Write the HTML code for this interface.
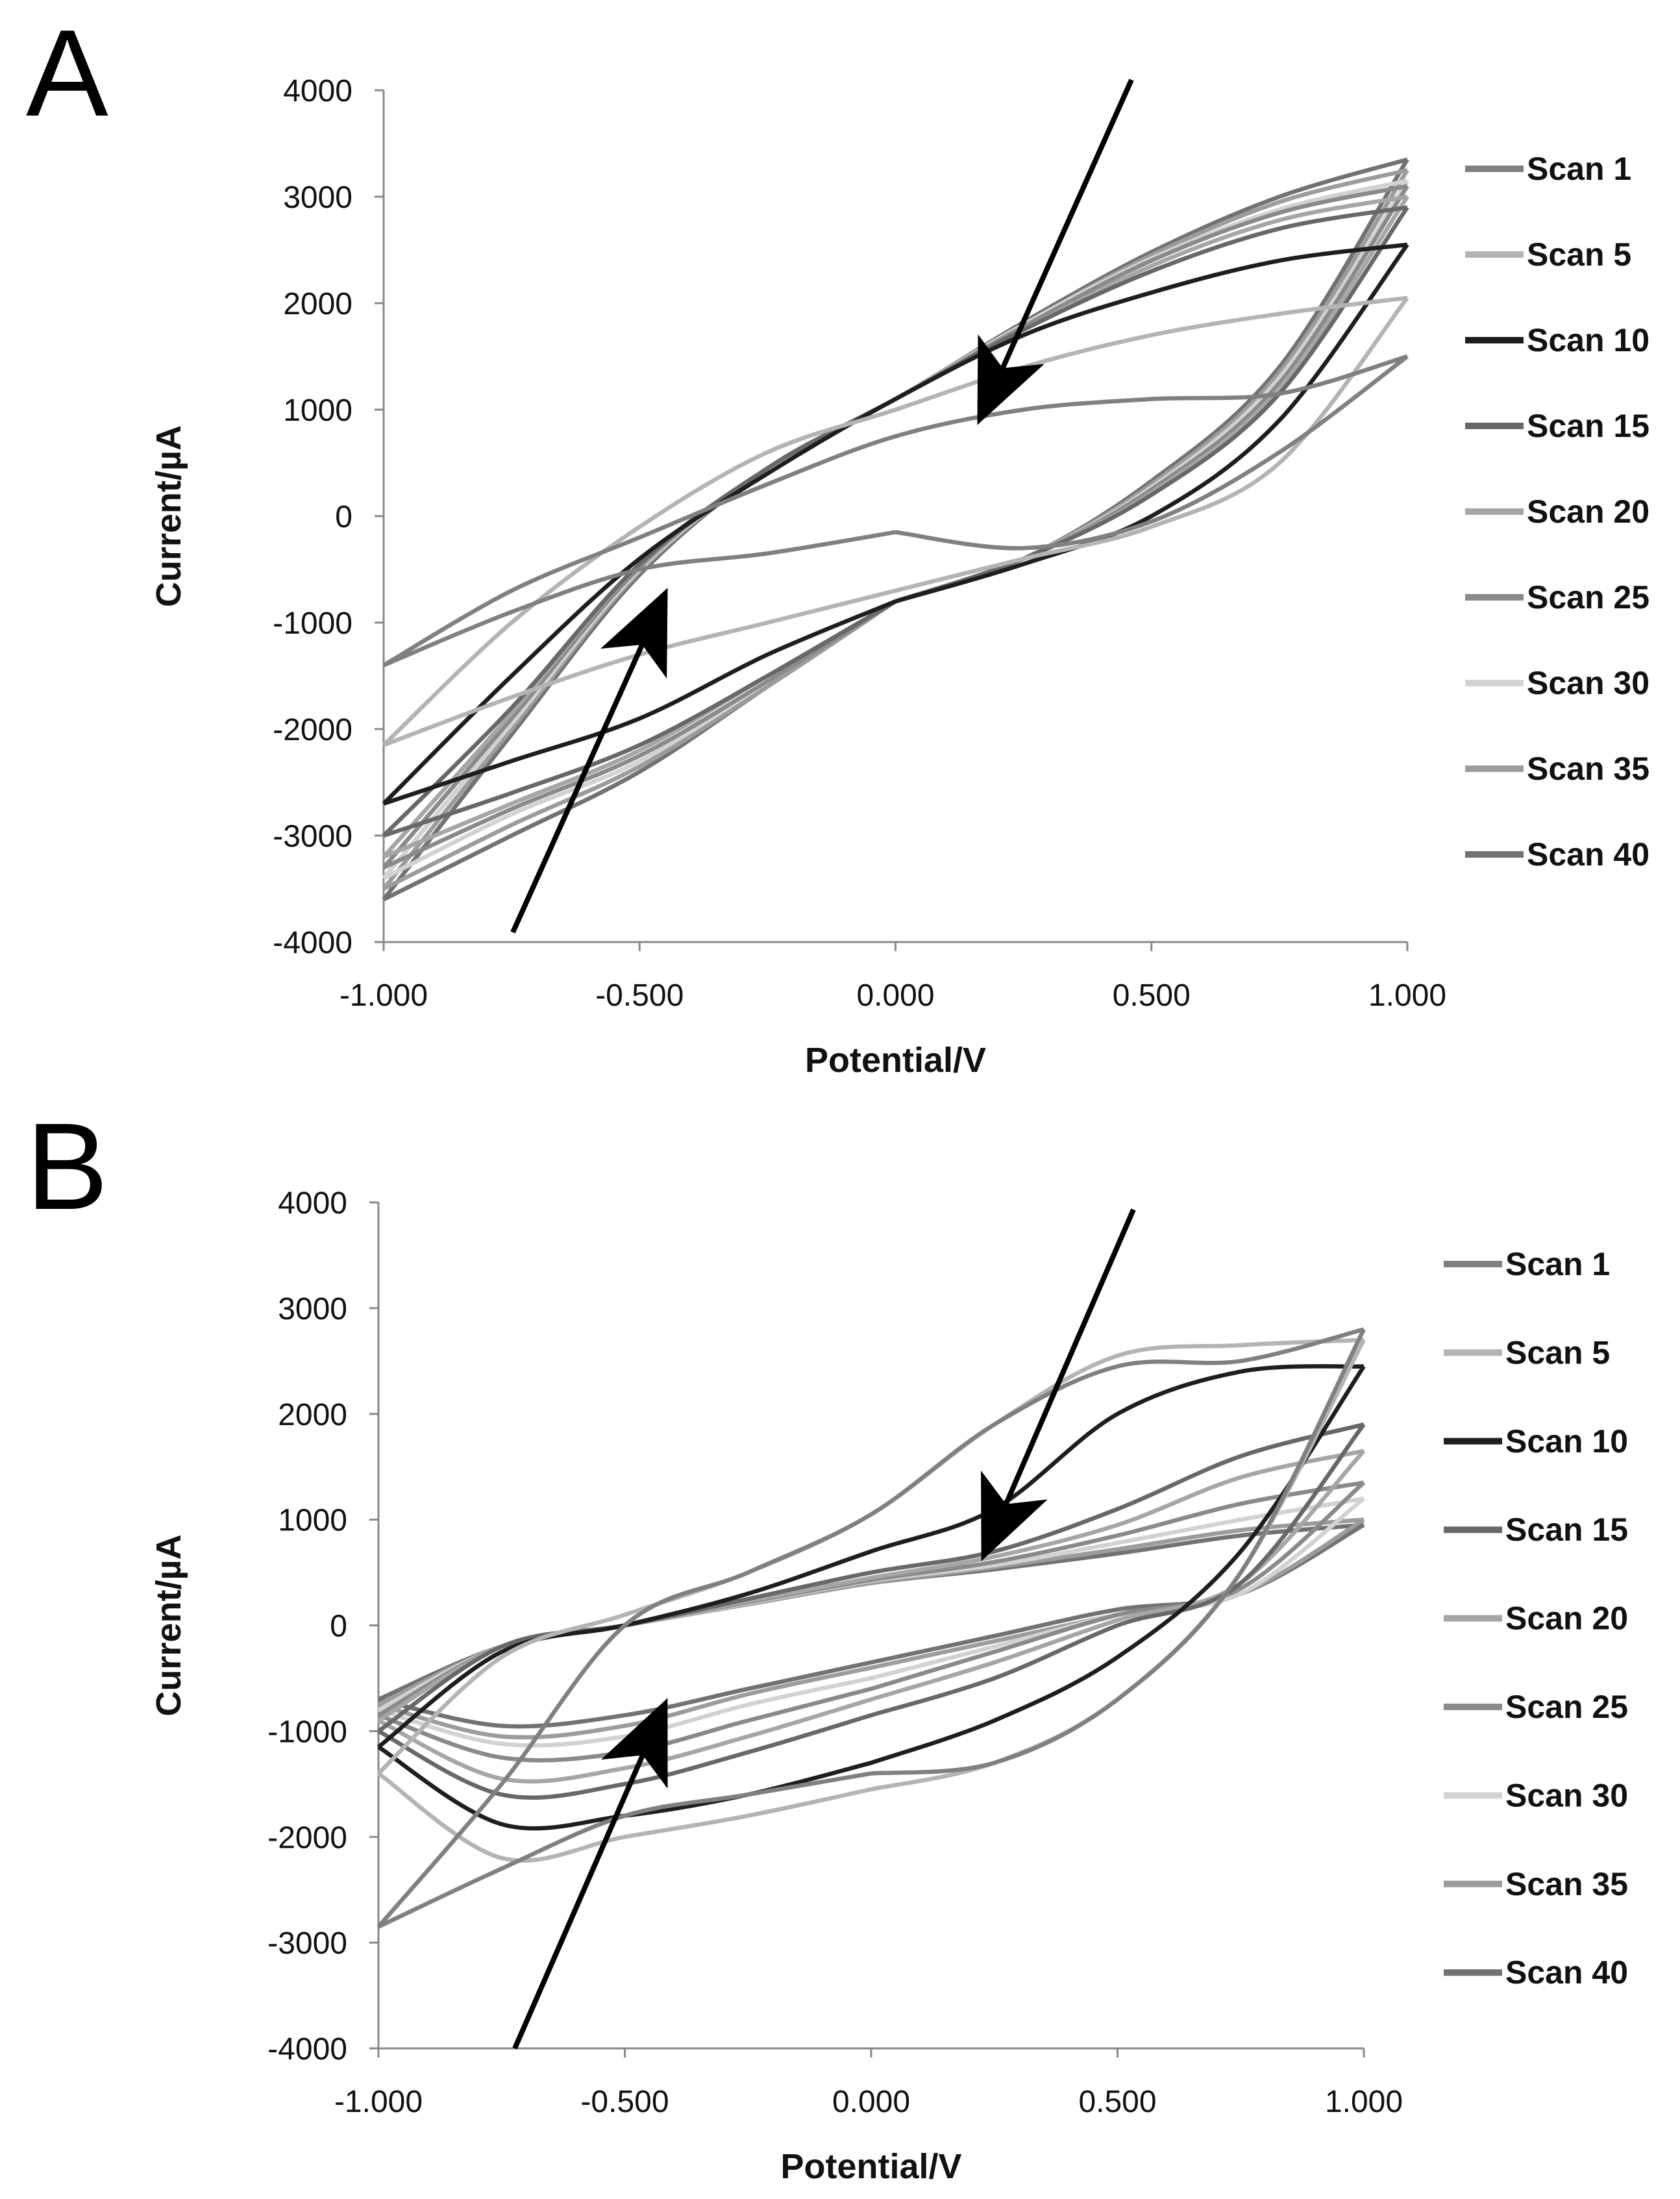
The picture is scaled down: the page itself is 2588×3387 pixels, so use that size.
<!DOCTYPE html>
<html><head><meta charset="utf-8"><style>
html,body{margin:0;padding:0;background:#fff;}
svg{display:block;}
text{font-family:"Liberation Sans","DejaVu Sans",sans-serif;}
</style></head><body>
<svg id="fig" width="2588" height="3387" viewBox="0 0 2588 3387" xmlns="http://www.w3.org/2000/svg">
<rect width="2588" height="3387" fill="#fff"/>
<text x="40" y="178" font-size="190">A</text>
<text x="40" y="1862" font-size="190">B</text>
<defs><marker id="ah" markerWidth="16" markerHeight="14" refX="14" refY="7" orient="auto" markerUnits="strokeWidth"><path d="M0,0 L16,7 L0,14 L4,7 Z" fill="#000"/></marker></defs>
</svg>
<script>
const potentials = [-1, -0.75, -0.5, -0.25, 0, 0.25, 0.5, 0.75, 1];
const scanNames = ["Scan 1","Scan 5","Scan 10","Scan 15","Scan 20","Scan 25","Scan 30","Scan 35","Scan 40"];
const scanColors = ["#808080","#b4b4b4","#1e1e1e","#686868","#a6a6a6","#8a8a8a","#d2d2d2","#9c9c9c","#727272"];
const yTicks = [4000,3000,2000,1000,0,-1000,-2000,-3000,-4000];
const xTicks = [-1,-0.5,0,0.5,1];
const xTickLabels = ["-1.000","-0.500","0.000","0.500","1.000"];

// Panel A: upper (anodic) and lower (cathodic) branches
const aUpper = [
 [-1400,-700,-200,300,750,1000,1100,1150,1500],
 [-2150,-1000,-100,600,1000,1400,1700,1900,2050],
 [-2700,-1500,-400,400,1100,1700,2100,2400,2550],
 [-3000,-1800,-450,450,1100,1750,2300,2700,2900],
 [-3200,-1850,-450,450,1100,1750,2350,2780,3000],
 [-3300,-1900,-480,450,1100,1780,2400,2850,3100],
 [-3400,-1950,-500,450,1100,1800,2420,2880,3150],
 [-3500,-2000,-520,450,1100,1800,2450,2950,3250],
 [-3600,-2050,-550,450,1100,1820,2480,3000,3350]];
const aLower = [
 [-1400,-900,-500,-350,-150,-300,-50,600,1500],
 [-2150,-1700,-1300,-1000,-700,-400,-100,500,2050],
 [-2700,-2300,-1900,-1300,-800,-450,0,900,2550],
 [-3000,-2600,-2150,-1500,-800,-400,200,1150,2900],
 [-3200,-2700,-2200,-1500,-800,-400,220,1200,3000],
 [-3300,-2750,-2250,-1550,-800,-400,250,1250,3100],
 [-3400,-2800,-2300,-1550,-800,-400,270,1300,3150],
 [-3500,-2900,-2350,-1600,-800,-400,300,1350,3250],
 [-3600,-3000,-2400,-1600,-800,-400,330,1400,3350]];

// Panel B
const bUpper = [
 [-2850,-1500,0,500,1050,1900,2450,2500,2800],
 [-1400,-300,100,500,1050,1900,2550,2650,2700],
 [-1150,-250,0,300,700,1100,2000,2400,2450],
 [-1000,-200,0,250,500,700,1100,1600,1900],
 [-900,-200,0,230,450,650,950,1400,1650],
 [-850,-200,0,220,430,600,850,1150,1350],
 [-800,-200,0,210,420,570,780,1000,1200],
 [-750,-200,0,200,400,550,720,900,1000],
 [-700,-200,0,200,400,530,680,850,950]];
const bLower = [
 [-2850,-2300,-1800,-1600,-1400,-1300,-700,500,2800],
 [-1400,-2200,-2000,-1800,-1550,-1300,-700,500,2700],
 [-1150,-1880,-1800,-1600,-1300,-900,-300,700,2450],
 [-1000,-1600,-1500,-1200,-850,-500,0,400,1900],
 [-900,-1450,-1350,-1050,-700,-350,50,400,1650],
 [-850,-1250,-1200,-900,-600,-250,100,350,1350],
 [-800,-1120,-1050,-750,-500,-200,100,300,1200],
 [-750,-1050,-950,-650,-400,-150,100,300,1000],
 [-700,-950,-850,-600,-350,-100,150,300,950]];

const NS = "http://www.w3.org/2000/svg";
const svg = document.getElementById("fig");
function mk(tag, attrs, parent){const e=document.createElementNS(NS,tag);for(const k in attrs)e.setAttribute(k,attrs[k]);(parent||svg).appendChild(e);return e;}
function smooth(pts){
  let d="M"+pts[0][0].toFixed(1)+","+pts[0][1].toFixed(1);
  for(let i=0;i<pts.length-1;i++){
    const p0=pts[Math.max(0,i-1)],p1=pts[i],p2=pts[i+1],p3=pts[Math.min(pts.length-1,i+2)];
    const c1=[p1[0]+(p2[0]-p0[0])/6,p1[1]+(p2[1]-p0[1])/6];
    const c2=[p2[0]-(p3[0]-p1[0])/6,p2[1]-(p3[1]-p1[1])/6];
    d+=" C"+c1[0].toFixed(1)+","+c1[1].toFixed(1)+" "+c2[0].toFixed(1)+","+c2[1].toFixed(1)+" "+p2[0].toFixed(1)+","+p2[1].toFixed(1);
  }
  return d;
}
function chart(id, cfg, upper, lower){
  const g=mk("g",{});
  
  
  const X=v=>cfg.x0+(v+1)/2*(cfg.x1-cfg.x0);
  const Y=v=>cfg.yb+(v+4000)/8000*(cfg.yt-cfg.yb);
  const ya=mk("line",{x1:X(-1),y1:Y(4000),x2:X(-1),y2:Y(-4000),stroke:"#888","stroke-width":3},g);
  
  
  const xa=mk("line",{x1:X(-1),y1:Y(-4000),x2:X(1),y2:Y(-4000),stroke:"#888","stroke-width":3},g);
  
  
  yTicks.forEach(t=>{
    mk("line",{x1:X(-1)-14,y1:Y(t),x2:X(-1),y2:Y(t),stroke:"#888","stroke-width":3},g);
    const tx=mk("text",{x:X(-1)-48,y:Y(t)+17,"font-size":48,"text-anchor":"end",fill:"#111"},g);
    tx.textContent=t;
    
    
  });
  xTicks.forEach((t,i)=>{
    mk("line",{x1:X(t),y1:Y(-4000),x2:X(t),y2:Y(-4000)+14,stroke:"#888","stroke-width":3},g);
    const tx=mk("text",{x:X(t),y:Y(-4000)+98,"font-size":48,"text-anchor":"middle",fill:"#111"},g);
    tx.textContent=xTickLabels[i];
    
    
  });
  const xt=mk("text",{x:(X(-1)+X(1))/2,y:Y(-4000)+200,"font-size":54,"font-weight":"bold","text-anchor":"middle",fill:"#111"},g);
  xt.textContent="Potential/V";
  
  
  const cy=(Y(4000)+Y(-4000))/2;
  const yt=mk("text",{x:0,y:0,"font-size":54,"font-weight":"bold","text-anchor":"middle",fill:"#111",transform:"translate(278,"+cy+") rotate(-90)"},g);
  yt.textContent="Current/\u00b5A";
  
  
  for(let s=upper.length-1;s>=0;s--){
    const u=upper[s],l=lower[s];
    const seg1=[4,3,2,1,0].map(i=>[X(potentials[i]),Y(l[i])]);
    const seg2=potentials.map((p,i)=>[X(p),Y(u[i])]);
    const seg3=[8,7,6,5,4].map(i=>[X(potentials[i]),Y(l[i])]);
    const d=smooth(seg1)+" "+smooth(seg2)+" "+smooth(seg3);
    const p=mk("path",{d:d,fill:"none",stroke:scanColors[s],"stroke-width":6.5,"stroke-linejoin":"round"},g);
    
    
  }
  scanNames.forEach((n,i)=>{
    const ly=cfg.ly+i*cfg.ls;
    const ln=mk("line",{x1:cfg.lx,y1:ly,x2:cfg.lx+90,y2:ly,stroke:scanColors[i],"stroke-width":10},g);
    
    
    const tx=mk("text",{x:cfg.lx+95,y:ly+17,"font-size":50,"font-weight":"bold",fill:"#111"},g);
    tx.textContent=n;
    
    
  });
  cfg.arrows.forEach(a=>{
    const ar=mk("line",{x1:a[0],y1:a[1],x2:a[2],y2:a[3],stroke:"#000","stroke-width":8,"marker-end":"url(#ah)"},g);
    
    
  });
}
chart("chart-a",{x0:591,x1:2168,yt:139,yb:1451,lx:2257,ly:260,ls:132,arrows:[[1743,123,1512,640],[790,1436,1022,920]]},aUpper,aLower);
chart("chart-b",{x0:583,x1:2101,yt:1852,yb:3155,lx:2224,ly:1947,ls:136.4,arrows:[[1746,1863,1518,2390],[793,3155,1022,2630]]},bUpper,bLower);
</script>
</body></html>
